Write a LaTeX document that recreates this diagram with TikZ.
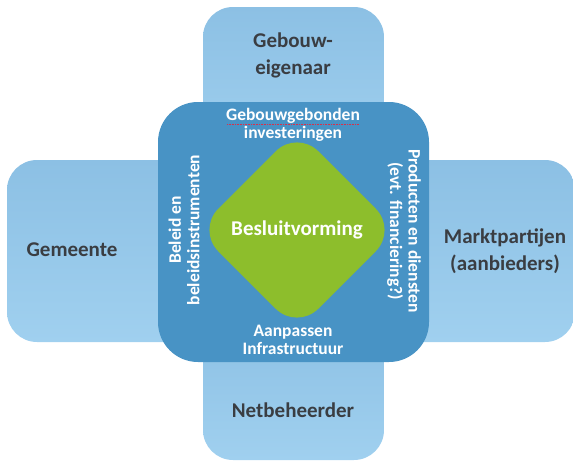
\documentclass[tikz,border=0pt]{standalone}
\usepackage{fontspec}
\setmainfont{Carlito}
\usepackage{tikz}
\usetikzlibrary{positioning,shapes,calc}

\definecolor{lightbluetop}{HTML}{8CC0E4}
\definecolor{lightbluebot}{HTML}{A0D0EF}
\definecolor{coreblue}{HTML}{4893C5}
\definecolor{leafgreen}{HTML}{8DBE2C}
\definecolor{darktext}{HTML}{3A3D42}
\definecolor{spellred}{HTML}{D8304A}

\tikzset{
  actorbox/.style={rectangle, rounded corners=30pt, inner sep=0pt,
    top color=lightbluetop, bottom color=lightbluebot, draw=none},
  actorlabel/.style={align=center, text=darktext,
    font=\fontsize{21}{27}\selectfont\bfseries},
  corelabel/.style={align=center, text=white, inner sep=1pt,
    font=\fontsize{17.5}{18.5}\selectfont\bfseries},
}

\begin{document}
\begin{tikzpicture}[x=1pt,y=-1pt]
    % Fix the page size
    \useasboundingbox (0,0) rectangle (573,463);

    % Draw actor boxes
    \node[actorbox, minimum width=181pt, minimum height=153pt] (eigenaarbox) at (293.5,83.5) {};
    \node[actorbox, minimum width=181pt, minimum height=140pt] (beheerderbox) at (293.5,390) {};
    \node[actorbox, minimum width=193pt, minimum height=182pt] (gemeentebox) at (103.5,251) {};
    \node[actorbox, minimum width=185pt, minimum height=182pt] (marktbox) at (482.5,251) {};

    % Draw core square
    \node[rectangle, rounded corners=40pt, fill=coreblue, minimum width=271pt,
      minimum height=260pt] (core) at (293.5,232) {};

    % Draw decision diamond
    \coordinate (mid) at (297,230);
    \fill[leafgreen, rounded corners=30pt] ($(mid)+(-100,0)$) -- ($(mid)+(0,-100)$)
      -- ($(mid)+(100,0)$) -- ($(mid)+(0,100)$) -- cycle;
    \node[text=white, font=\fontsize{21}{24}\selectfont\bfseries] (besluit) at (mid) {Besluitvorming};

    % Actor labels
    \node[actorlabel] (eigenaar) at (293,55) {Gebouw-\\eigenaar};
    \node[actorlabel] (beheerder) at (293,410) {Netbeheerder};
    \node[actorlabel] (gemeente) at (72,250) {Gemeente};
    \node[actorlabel] (markt) at (505,251) {Marktpartijen\\(aanbieders)};

    % Core labels
    \node[corelabel] (investering) at (293,125) {Gebouwgebonden\\investeringen};
    \node[corelabel] (infra) at (293,340) {Aanpassen\\Infrastructuur};
    \node[corelabel, rotate=90] (beleid) at (184,230) {Beleid en\\beleidsinstrumenten};
    \node[corelabel, rotate=-90] (producten) at (404,231) {Producten en diensten\\(evt. financiering?)};

    % Spell check line
    \draw[spellred, line width=0.6pt, densely dotted]
      ($(investering.north west)+(2,17)$) -- ($(investering.north east)+(-2,17)$);
\end{tikzpicture}
\end{document}
